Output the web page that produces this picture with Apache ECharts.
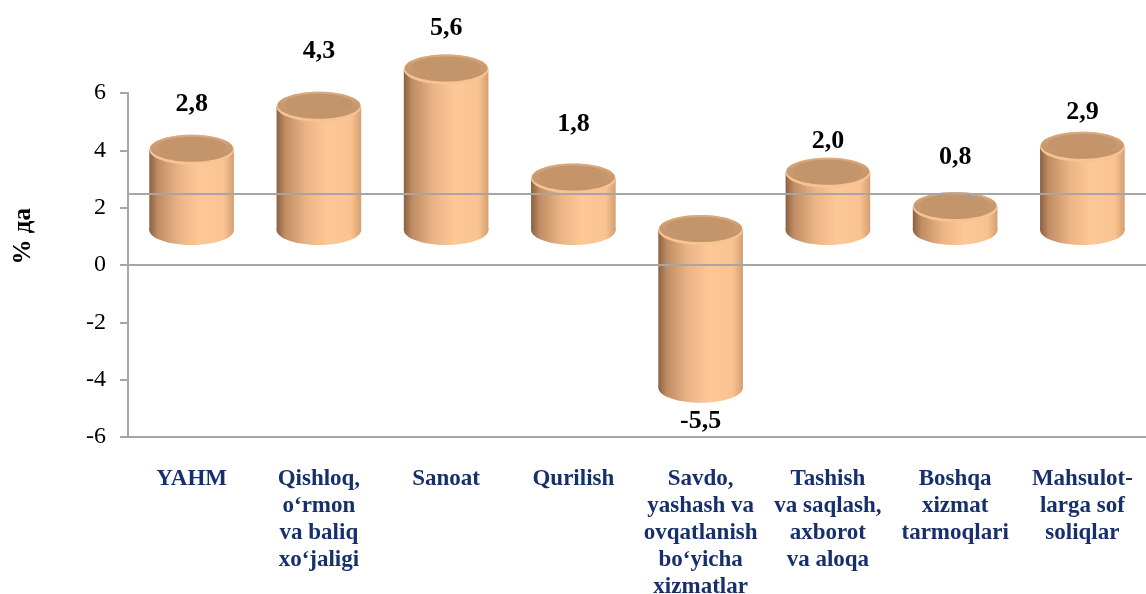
<!DOCTYPE html>
<html>
<head>
<meta charset="utf-8">
<script src="https://cdn.jsdelivr.net/npm/echarts@6/dist/echarts.min.js"></script>
<style>
  html, body { margin: 0; padding: 0; background: #fff; }
  #chart { width: 1146px; height: 594px; }
</style>
</head>
<body>
<div id="chart"></div>
<script>
// categories and values
const categories = [
  'YAHM',
  'Qishloq,\no‘rmon\nva baliq\nxo‘jaligi',
  'Sanoat',
  'Qurilish',
  'Savdo,\nyashash va\novqatlanish\nbo‘yicha\nxizmatlar',
  'Tashish\nva saqlash,\naxborot\nva aloqa',
  'Boshqa\nxizmat\ntarmoqlari',
  'Mahsulot-\nlarga sof\nsoliqlar'
];
const values = [2.8, 4.3, 5.6, 1.8, -5.5, 2.0, 0.8, 2.9];
const yTicks = { min: -6, max: 6, step: 2 };
const refLines = [0, 2.5];

// label gap from each cylinder (px), the source places them by hand
const labelGap = [30, 40, 26, 39, 19, 16, 35, 20];

const serif = '"Liberation Serif", "DejaVu Serif", serif';
const depth = 35;   // pseudo-3D lift of the cylinders
const ry = 15;      // ellipse half height

const bodyFill = new echarts.graphic.LinearGradient(0, 0, 1, 0, [
  { offset: 0, color: '#8a6142' },
  { offset: 0.1, color: '#c08c64' },
  { offset: 0.35, color: '#eab486' },
  { offset: 0.6, color: '#fdc897' },
  { offset: 0.88, color: '#f9c391' },
  { offset: 1, color: '#d49e72' }
]);
const capFill = new echarts.graphic.LinearGradient(0, 0, 0, 1, [
  { offset: 0, color: '#dcab80' },
  { offset: 0.45, color: '#c99a70' },
  { offset: 1, color: '#c29268' }
]);

function renderCylinder(params, api) {
  const i = api.value(0);
  const v = api.value(1);
  const p0 = api.coord([i, 0]);
  const p1 = api.coord([i, v]);
  const w = api.size([1, 0])[0] * 0.665;
  const cx = p0[0];
  const rx = w / 2;
  const yTop = Math.min(p0[1], p1[1]) - depth;
  const yBot = Math.max(p0[1], p1[1]) - depth;
  const gap = labelGap[params.dataIndex];
  const txt = v.toFixed(1).replace('.', ',');
  const labelY = v >= 0 ? yTop - ry - gap : yBot + ry + gap;
  return {
    type: 'group',
    children: [
      { type: 'ellipse', shape: { cx: cx, cy: yBot, rx: rx, ry: ry }, style: { fill: bodyFill } },
      { type: 'rect', shape: { x: cx - rx, y: yTop, width: w, height: yBot - yTop }, style: { fill: bodyFill } },
      { type: 'ellipse', shape: { cx: cx, cy: yTop, rx: rx, ry: ry }, style: { fill: '#f6c393' } },
      { type: 'ellipse', shape: { cx: cx, cy: yTop - 1.5, rx: rx - 1, ry: ry - 1.5 }, style: { fill: capFill } },
      { type: 'ellipse', shape: { cx: cx, cy: yTop - 3, rx: rx - 8, ry: ry - 5 }, style: { fill: '#c4946a' } },
      {
        type: 'text',
        style: {
          x: cx, y: labelY, text: txt,
          align: 'center', verticalAlign: 'middle',
          font: 'bold 26px ' + serif, fill: '#000'
        }
      }
    ]
  };
}

const chart = echarts.init(document.getElementById('chart'));
chart.setOption({
  animation: false,
  grid: { left: 128, right: 0, top: 93, bottom: 157, outerBoundsMode: 'none', containLabel: false },
  graphic: [{
    type: 'text',
    left: 11, top: 208,
    rotation: Math.PI / 2,
    style: { text: '% да', font: 'bold 25px ' + serif, fill: '#000' }
  }],
  xAxis: {
    type: 'category',
    data: categories,
    axisLine: { onZero: false, lineStyle: { color: '#a6a6a6', width: 2 } },
    axisTick: { show: false },
    axisLabel: {
      interval: 0, margin: 29,
      fontFamily: serif, fontWeight: 'bold', fontSize: 23,
      lineHeight: 27, color: '#17306b', align: 'center'
    },
    splitLine: { show: false }
  },
  yAxis: {
    type: 'value',
    min: yTicks.min, max: yTicks.max, interval: yTicks.step,
    axisLine: { show: true, lineStyle: { color: '#a6a6a6', width: 2 } },
    axisTick: { show: true, length: 8, lineStyle: { color: '#a6a6a6', width: 2 } },
    axisLabel: { fontFamily: serif, fontSize: 24, color: '#000', margin: 22 },
    splitLine: { show: false }
  },
  series: [
    {
      type: 'line',
      data: [],
      silent: true,
      markLine: {
        symbol: 'none',
        silent: true,
        label: { show: false },
        lineStyle: { color: '#a6a6a6', width: 2, type: 'solid' },
        data: refLines.map(function (y) { return { yAxis: y }; })
      },
      z: 1
    },
    {
      type: 'custom',
      renderItem: renderCylinder,
      data: values.map(function (v, i) { return [i, v]; }),
      z: 3
    }
  ]
});
</script>
</body>
</html>
